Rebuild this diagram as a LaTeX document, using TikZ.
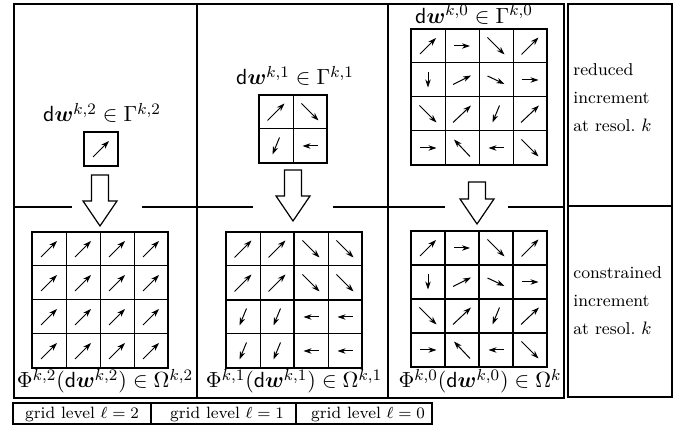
\documentclass[tikz,border=0pt]{standalone}
\usepackage{amsmath,bm}
\usetikzlibrary{arrows.meta}
\newcommand\cellarrow[6]{%
  \draw[vec] ({#1+34*#3+17-0.5*(#5)},{#2+34*#4+17-0.5*(#6)}) -- ({#1+34*#3+17+0.5*(#5)},{#2+34*#4+17+0.5*(#6)});}
\newcommand\thingrid[3]{% x0 y0 n
  \foreach \i in {1,...,#3} {\ifnum\i<#3
    \draw[thin grid] ({#1+34*\i},#2) -- ++(0,{34*#3});
    \draw[thin grid] (#1,{#2+34*\i}) -- ++({34*#3},0);\fi}}
\newcommand\hollowarrow[4]{% cx top tip
  \draw[hollow] ({#1-8.5},#2) -- ({#1-8.5},{#3-25}) -- ({#1-17},{#3-25}) -- (#1,#3)
     -- ({#1+17},{#3-25}) -- ({#1+8.5},{#3-25}) -- ({#1+8.5},#2) -- cycle;}
\begin{document}
\begin{tikzpicture}[x=0.5pt,y=-0.5pt,
  vec/.style={line width=0.5pt,-{Stealth[length=4pt,width=2.7pt,inset=1.2pt]}},
  thin grid/.style={line width=0.5pt},
  thick grid/.style={line width=1.1pt},
  frame/.style={line width=0.55pt},
  hollow/.style={draw,line width=0.6pt,fill=white},
  mlbl/.style={font=\fontsize{11.3}{13}\selectfont,inner sep=0pt,anchor=base},
  txt/.style={font=\fontsize{8.6}{14}\selectfont,align=left,inner sep=0pt,anchor=north west},
  glbl/.style={font=\fontsize{8.2}{10}\selectfont,inner sep=0pt,anchor=base}]
\useasboundingbox (0,0) rectangle (686,437);

% table frame
\draw[frame] (14,4) rectangle (564,398);
\draw[frame] (197,4) -- (197,398);
\draw[frame] (388,4) -- (388,398);
\draw[frame] (14,207) -- (72,207) (142,207) -- (253,207) (333,207) -- (445,207) (508,207) -- (564,207);
\draw[frame] (568,4) rectangle (672,397);
\draw[frame] (568,206) -- (672,206);
\draw[frame] (13,403) rectangle (432,424);
\draw[frame] (151,403) -- (151,424) (296,403) -- (296,424);

% ---- top row: reduced increments
% level 2
\node[mlbl] (g2) at (102,122) {$\mathsf{d}\bm{w}^{k,2}\in\Gamma^{k,2}$};
\draw[frame] (84,132) rectangle ++(34,34);
\cellarrow{84}{132}{0}{0}{16}{-16}
% level 1
\node[mlbl] (g1) at (295,85) {$\mathsf{d}\bm{w}^{k,1}\in\Gamma^{k,1}$};
\thingrid{259}{95}{2}
\draw[frame] (259,95) rectangle ++(68,68);
\foreach \c/\r/\a/\b in {0/0/17/-17,1/0/17/17,0/1/-7/17,1/1/-15/0}
  {\cellarrow{259}{95}{\c}{\r}{\a}{\b}}
% level 0
\node[mlbl] (g0) at (474,23.5) {$\mathsf{d}\bm{w}^{k,0}\in\Gamma^{k,0}$};
\thingrid{411}{29}{4}
\draw[frame] (411,29) rectangle ++(136,136);
\def\kzero{0/0/16/-16,1/0/16/0,2/0/17/17,3/0/17/-17,
  0/1/0/15,1/1/18/-9,2/1/17/8,3/1/17/0,
  0/2/17/17,1/2/18/-17,2/2/-7/17,3/2/18/-17,
  0/3/17/0,1/3/-16/-17,2/3/-15/0,3/3/17/17}
\foreach \c/\r/\a/\b in \kzero {\cellarrow{411}{29}{\c}{\r}{\a}{\b}}

% ---- hollow arrows (prolongation operators)
\hollowarrow{100}{175}{226}
\node[mlbl,anchor=base west] (p2) at (118,195) {$\Phi^{k,2}$};
\hollowarrow{293}{170}{221}
\node[mlbl,anchor=base west] (p1) at (308,187) {$\Phi^{k,1}$};
\hollowarrow{477}{182}{224}
\node[mlbl,anchor=base west] (p0) at (493,195) {$\Phi^{k,0}$};

% ---- bottom row: constrained increments
% level 2
\thingrid{32}{232}{4}
\draw[thick grid] (32,232) rectangle ++(136,136);
\foreach \c in {0,...,3} {\foreach \r in {0,...,3} {\cellarrow{32}{232}{\c}{\r}{16}{-16}}}
\node[mlbl] (o2) at (105,388) {$\Phi^{k,2}(\mathsf{d}\bm{w}^{k,2})\in\Omega^{k,2}$};
% level 1
\thingrid{226}{232}{4}
\draw[thick grid] (226,232) rectangle ++(136,136);
\draw[thick grid] (294,232) -- ++(0,136) (226,300) -- ++(136,0);
\foreach \c/\r/\a/\b in {0/0/17/-17,1/0/17/-17,2/0/17/17,3/0/17/17,
  0/1/17/-17,1/1/17/-17,2/1/17/17,3/1/17/17,
  0/2/-7/17,1/2/-7/17,2/2/-15/0,3/2/-15/0,
  0/3/-7/17,1/3/-7/17,2/3/-15/0,3/3/-15/0}
  {\cellarrow{226}{232}{\c}{\r}{\a}{\b}}
\node[mlbl] (o1) at (294,388) {$\Phi^{k,1}(\mathsf{d}\bm{w}^{k,1})\in\Omega^{k,1}$};
% level 0
\foreach \i in {1,2,3} {
  \draw[thick grid] ({411+34*\i},231) -- ++(0,136);
  \draw[thick grid] (411,{231+34*\i}) -- ++(136,0);}
\draw[thick grid] (411,231) rectangle ++(136,136);
\foreach \c/\r/\a/\b in \kzero {\cellarrow{411}{231}{\c}{\r}{\a}{\b}}
\node[mlbl] (o0) at (480,388) {$\Phi^{k,0}(\mathsf{d}\bm{w}^{k,0})\in\Omega^{k}$};

% ---- right column
\node[txt] (rtop) at (573,63) {reduced\\increment\\at resol.\ $k$};
\node[txt] (rbot) at (573,266) {constrained\\increment\\at resol.\ $k$};

% ---- grid levels
\node[glbl] (l2) at (82,419) {grid level $\ell=2$};
\node[glbl] (l1) at (227,419) {grid level $\ell=1$};
\node[glbl] (l0) at (368,419) {grid level $\ell=0$};
\end{tikzpicture}
\end{document}
